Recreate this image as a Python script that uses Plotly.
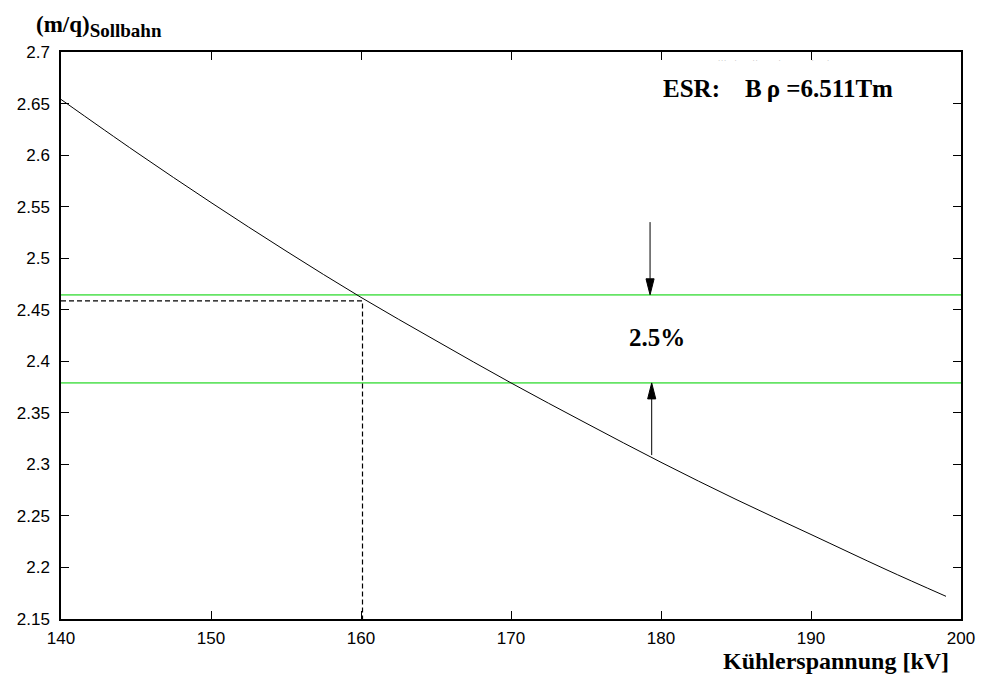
import plotly.graph_objects as go

# Data
voltage_kv = [140, 145, 150, 155, 160, 165, 170, 175, 180, 185, 190, 195, 199]
mq_soll = [2.654, 2.603, 2.554, 2.507, 2.462, 2.420, 2.379, 2.340, 2.302, 2.266, 2.232, 2.198, 2.172]

band_upper = 2.4645
band_lower = 2.379
marker_x = 160.1
marker_y = 2.4585
arrow_up_x = 179.27
arrow_low_x = 179.38
arrow_top_start = 2.535
arrow_bottom_start = 2.309

x_ticks = [140, 150, 160, 170, 180, 190, 200]
y_ticks = [2.15, 2.2, 2.25, 2.3, 2.35, 2.4, 2.45, 2.5, 2.55, 2.6, 2.65, 2.7]

serif = "Liberation Serif, Times New Roman, serif"
sans = "Liberation Sans, Arial, sans-serif"

# arrowhead size in data units (approx 16 px long, 8 px wide)
head_len = 0.0155
head_half = 0.27

fig = go.Figure()

# green band lines
for yv in (band_upper, band_lower):
    fig.add_trace(go.Scatter(x=[140, 200], y=[yv, yv], mode="lines",
                             line=dict(color="#66e466", width=1.8),
                             showlegend=False, hoverinfo="skip"))

# dashed marker
fig.add_trace(go.Scatter(x=[140, marker_x, marker_x], y=[marker_y, marker_y, 2.15],
                         mode="lines", line=dict(color="black", width=1.2, dash="5px,3px"),
                         showlegend=False, hoverinfo="skip"))

# main curve
fig.add_trace(go.Scatter(x=voltage_kv, y=mq_soll, mode="lines",
                         line=dict(color="black", width=1, shape="spline"),
                         showlegend=False))

# arrow shafts
fig.add_trace(go.Scatter(x=[arrow_up_x, arrow_up_x], y=[arrow_top_start, band_upper + head_len],
                         mode="lines", line=dict(color="black", width=1),
                         showlegend=False, hoverinfo="skip"))
fig.add_trace(go.Scatter(x=[arrow_low_x, arrow_low_x], y=[arrow_bottom_start, band_lower - head_len],
                         mode="lines", line=dict(color="black", width=1),
                         showlegend=False, hoverinfo="skip"))
# arrow heads
fig.add_trace(go.Scatter(
    x=[arrow_up_x - head_half, arrow_up_x + head_half, arrow_up_x, arrow_up_x - head_half],
    y=[band_upper + head_len, band_upper + head_len, band_upper, band_upper + head_len],
    mode="lines", fill="toself", fillcolor="black", line=dict(color="black", width=1),
    showlegend=False, hoverinfo="skip"))
fig.add_trace(go.Scatter(
    x=[arrow_low_x - head_half, arrow_low_x + head_half, arrow_low_x, arrow_low_x - head_half],
    y=[band_lower - head_len, band_lower - head_len, band_lower, band_lower - head_len],
    mode="lines", fill="toself", fillcolor="black", line=dict(color="black", width=1),
    showlegend=False, hoverinfo="skip"))

fig.add_annotation(x=179.75, y=2.4235, xref="x", yref="y", text="<b>2.5%</b>",
                   showarrow=False, font=dict(family=serif, size=25, color="black"))
fig.add_annotation(x=180.0, y=2.665, xref="x", yref="y", xanchor="left",
                   text="<b>ESR:&nbsp;&nbsp;&nbsp;&nbsp;B\u2009\u03c1 =6.511Tm</b>",
                   showarrow=False, font=dict(family=serif, size=25, color="black"))
# faint residue marks at the top of the frame
fig.add_annotation(x=187.5, y=2.6885, xref="x", yref="y",
                   text="\u02d9\u02d9\u02d9&nbsp;&nbsp;&nbsp;\u02d9&nbsp;&nbsp;&nbsp;&nbsp;&nbsp;&nbsp;\u02d9\u02d9"
                        "&nbsp;&nbsp;&nbsp;&nbsp;&nbsp;&nbsp;&nbsp;&nbsp;\u02d9"
                        "&nbsp;&nbsp;&nbsp;&nbsp;&nbsp;&nbsp;&nbsp;&nbsp;&nbsp;&nbsp;&nbsp;&nbsp;\u02d9"
                        "&nbsp;&nbsp;&nbsp;&nbsp;&nbsp;\u02d9",
                   showarrow=False, font=dict(family=sans, size=9, color="#c0c0c0"))

# axis titles
fig.add_annotation(x=0, y=1, xref="paper", yref="paper", xanchor="left", yanchor="bottom",
                   xshift=-27, yshift=9,
                   text="<b>(m/q)<sub><span style='font-size:19px'>Sollbahn</span></sub></b>",
                   showarrow=False, font=dict(family=serif, size=23, color="black"))
fig.add_annotation(x=1, y=0, xref="paper", yref="paper", xanchor="right", yanchor="top",
                   xshift=-10, yshift=-27,
                   text="<b>Kühlerspannung [kV]</b>",
                   showarrow=False, font=dict(family=serif, size=24, color="black"))

axis_common = dict(showgrid=False, zeroline=False, showline=True, linecolor="black",
                   linewidth=1.5, mirror="ticks", ticks="inside", ticklen=8,
                   tickcolor="black", tickwidth=1, ticklabeloverflow="allow",
                   tickfont=dict(family=sans, size=17, color="black"))

fig.update_xaxes(range=[140, 200], tickvals=x_ticks, ticktext=[str(v) for v in x_ticks],
                 ticklabelstandoff=3, **axis_common)
fig.update_yaxes(range=[2.15, 2.7], tickvals=y_ticks,
                 ticktext=[f"{v:g}" for v in y_ticks], ticklabelstandoff=6, **axis_common)

fig.update_layout(width=987, height=681, plot_bgcolor="white", paper_bgcolor="white",
                  margin=dict(l=61, r=17, t=52, b=62), showlegend=False)

fig.write_html("out.html", config={"displayModeBar": False},
               post_script="document.body.style.margin='0';document.body.style.overflow='hidden';")
